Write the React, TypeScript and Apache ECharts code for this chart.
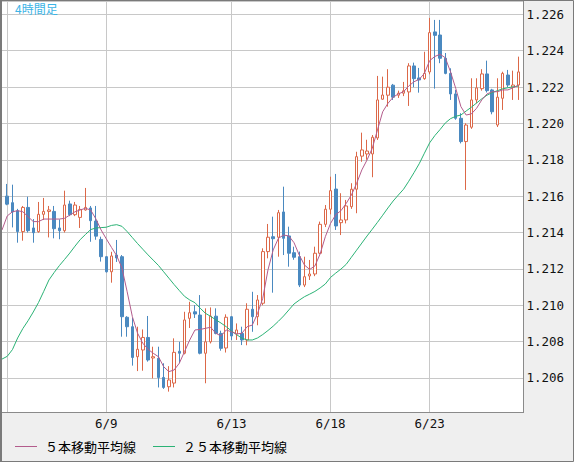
import { useEffect, useRef } from "react";
import * as echarts from "echarts";

// 4-hour candles (oldest first)
const opens = [
  1.216, 1.21564, 1.2152, 1.21405, 1.21538, 1.21425, 1.21405, 1.215, 1.21516, 1.21516,
  1.21425, 1.2141, 1.21557, 1.21498, 1.21483, 1.21524, 1.21535, 1.21463, 1.21362, 1.21267,
  1.21184, 1.21276, 1.21267, 1.20934, 1.20882, 1.20717, 1.20754, 1.20823, 1.2071, 1.20708,
  1.20603, 1.20552, 1.20572, 1.20747, 1.20736, 1.20928, 1.20964, 1.20946, 1.20736, 1.20799,
  1.2094, 1.20845, 1.20765, 1.20937, 1.20842, 1.20845, 1.20809, 1.20978, 1.20937, 1.21011,
  1.21295, 1.21377, 1.21374, 1.21513, 1.21381, 1.21289, 1.21267, 1.21111, 1.21161, 1.21172,
  1.21286, 1.21445, 1.21528, 1.21639, 1.21454, 1.21469, 1.21542, 1.21638, 1.2182, 1.21832,
  1.21832, 1.2192, 1.22133, 1.22155, 1.2221, 1.22155, 1.22166, 1.22173, 1.22316, 1.2225,
  1.22246, 1.22283, 1.22503, 1.22486, 1.22358, 1.22275, 1.22162, 1.22028, 1.219, 1.21979,
  1.22129, 1.22191, 1.22272, 1.22184, 1.21991, 1.22138, 1.22266, 1.22199, 1.22211,
];
const closes = [
  1.21556, 1.21513, 1.21405, 1.21538, 1.2141, 1.21399, 1.215, 1.21516, 1.21524, 1.21421,
  1.2141, 1.21551, 1.21498, 1.21551, 1.21527, 1.21538, 1.21465, 1.2138, 1.21267, 1.21184,
  1.21271, 1.2126, 1.20937, 1.20882, 1.20713, 1.20758, 1.20823, 1.20699, 1.20717, 1.20603,
  1.20548, 1.20589, 1.20741, 1.20736, 1.20919, 1.20959, 1.20952, 1.20736, 1.20799, 1.2094,
  1.20845, 1.20763, 1.20934, 1.20831, 1.20864, 1.20809, 1.20978, 1.20937, 1.21029, 1.21295,
  1.21374, 1.21366, 1.21509, 1.21368, 1.21286, 1.21264, 1.21111, 1.21157, 1.21172, 1.21286,
  1.21445, 1.21528, 1.2163, 1.21436, 1.21469, 1.21546, 1.21638, 1.21817, 1.21854, 1.21848,
  1.21924, 1.22129, 1.22156, 1.22199, 1.22144, 1.22166, 1.22179, 1.22316, 1.22246, 1.22239,
  1.22275, 1.22499, 1.22484, 1.22358, 1.22275, 1.22162, 1.22028, 1.219, 1.21991, 1.22129,
  1.22195, 1.22272, 1.2218, 1.22064, 1.22144, 1.22275, 1.22211, 1.22211, 1.22283,
];
const lows = [
  1.2155, 1.21428, 1.21344, 1.21355, 1.214, 1.21344, 1.21399, 1.21469, 1.21373, 1.21368,
  1.21363, 1.214, 1.2149, 1.2149, 1.21425, 1.2152, 1.21349, 1.2136, 1.2124, 1.2118,
  1.21124, 1.21238, 1.20827, 1.20827, 1.20668, 1.20638, 1.2064, 1.2069, 1.20598, 1.20548,
  1.2054, 1.20525, 1.20548, 1.20681, 1.2073, 1.20875, 1.2093, 1.2073, 1.20571, 1.2079,
  1.2084, 1.2075, 1.2074, 1.20809, 1.20809, 1.20781, 1.2078, 1.20854, 1.2089, 1.21,
  1.21258, 1.21069, 1.21267, 1.21276, 1.21212, 1.2125, 1.211, 1.211, 1.21139, 1.2116,
  1.2128, 1.2143, 1.215, 1.21414, 1.21386, 1.2145, 1.2153, 1.21506, 1.21789, 1.218,
  1.21704, 1.21909, 1.2213, 1.22092, 1.22129, 1.2214, 1.2215, 1.22096, 1.22199, 1.22169,
  1.2224, 1.2227, 1.22191, 1.22331, 1.2227, 1.22129, 1.2202, 1.2189, 1.21634, 1.2197,
  1.2211, 1.2218, 1.2217, 1.2205, 1.2198, 1.22074, 1.222, 1.22129, 1.22129,
];
const highs = [
  1.21667, 1.21663, 1.2153, 1.21546, 1.21597, 1.21474, 1.21568, 1.2159, 1.21546, 1.21546,
  1.21472, 1.2163, 1.21575, 1.21568, 1.21546, 1.21645, 1.21546, 1.21546, 1.21377, 1.2127,
  1.21294, 1.21359, 1.21276, 1.2094, 1.2093, 1.20882, 1.20867, 1.20941, 1.20772, 1.20772,
  1.20681, 1.20665, 1.20818, 1.20799, 1.20964, 1.21019, 1.21001, 1.21056, 1.20983, 1.20988,
  1.20983, 1.2086, 1.2095, 1.2094, 1.209, 1.20882, 1.21011, 1.21074, 1.21056, 1.21313,
  1.21447, 1.21487, 1.21524, 1.21652, 1.21432, 1.21322, 1.21295, 1.21267, 1.21249, 1.21322,
  1.2146, 1.21551, 1.21707, 1.21722, 1.21616, 1.21579, 1.21671, 1.21844, 1.21949, 1.2191,
  1.21936, 1.22261, 1.22257, 1.22298, 1.22217, 1.2218, 1.22228, 1.22331, 1.22334, 1.22305,
  1.22394, 1.2258, 1.22569, 1.22569, 1.22387, 1.22303, 1.22184, 1.22056, 1.22001, 1.22248,
  1.22248, 1.22298, 1.22345, 1.2219, 1.22248, 1.22284, 1.22294, 1.2229, 1.22367,
];

// moving averages as drawn; first value sits one slot before the first candle
const ma5 = [
  1.21414,
  1.21491, 1.21514, 1.2152, 1.21514, 1.21487, 1.2146, 1.2146, 1.21474, 1.21474, 1.21474,
  1.21474, 1.21478, 1.21496, 1.21514, 1.21524, 1.21533, 1.21524, 1.21475, 1.21414, 1.21365,
  1.21318, 1.21272, 1.21205, 1.21074, 1.20937, 1.20846, 1.20791, 1.20758, 1.20736, 1.20717,
  1.20662, 1.20635, 1.20644, 1.20681, 1.20745, 1.20809, 1.20864, 1.20867, 1.20873, 1.20879,
  1.20846, 1.20831, 1.20864, 1.20854, 1.20842, 1.20846, 1.20882, 1.20891, 1.20955, 1.21038,
  1.21194, 1.21304, 1.21368, 1.21386, 1.21381, 1.21344, 1.21276, 1.21221, 1.21197, 1.21216,
  1.21282, 1.21377, 1.2145, 1.21498, 1.2152, 1.2156, 1.21606, 1.2167, 1.21744, 1.21799,
  1.21863, 1.21964, 1.22064, 1.2211, 1.22144, 1.22162, 1.22174, 1.22206, 1.22229, 1.22242,
  1.22275, 1.22345, 1.22368, 1.2238, 1.22361, 1.22284, 1.22193, 1.22092, 1.22046, 1.22052,
  1.22083, 1.22129, 1.22162, 1.22174, 1.22174, 1.22184, 1.22184, 1.22196, 1.2221,
];
const ma25 = [
  1.20704,
  1.20719, 1.20756, 1.2082, 1.20872, 1.20915, 1.20963, 1.21015, 1.21076, 1.21139, 1.2118,
  1.21218, 1.21252, 1.21287, 1.21325, 1.21361, 1.21389, 1.21416, 1.21425, 1.21427, 1.21429,
  1.21439, 1.21443, 1.21434, 1.21405, 1.21372, 1.21339, 1.21308, 1.21277, 1.21248, 1.21219,
  1.21184, 1.21149, 1.21114, 1.21081, 1.21049, 1.21029, 1.21014, 1.20984, 1.20956, 1.20939,
  1.2092, 1.20902, 1.20882, 1.20859, 1.20838, 1.20819, 1.20809, 1.20809, 1.2082, 1.20839,
  1.20861, 1.20885, 1.20912, 1.20941, 1.20974, 1.21007, 1.21028, 1.21047, 1.21061, 1.21076,
  1.21095, 1.21117, 1.21153, 1.21177, 1.21199, 1.21225, 1.21264, 1.21303, 1.21342, 1.21381,
  1.21418, 1.21456, 1.21495, 1.21535, 1.21573, 1.21606, 1.21638, 1.21682, 1.21729, 1.21778,
  1.21836, 1.21893, 1.21933, 1.21966, 1.22002, 1.22026, 1.22039, 1.22046, 1.22068, 1.22089,
  1.22112, 1.22135, 1.22155, 1.22169, 1.2218, 1.2219, 1.22196, 1.22201, 1.22205,
];

// vertical grid lines sit on these candles
const gridCandles = [0, 19, 43, 62, 81];
const gridLabels = ["", "6/9", "6/13", "6/18", "6/23"];

const seriesNames = ["５本移動平均線", "２５本移動平均線"];

const Y_MIN = 1.20413;
const Y_MAX = 1.22673;

const UP = "#dc6848";
const DOWN = "#4a89c0";
const MA5_COLOR = "#b35c8c";
const MA25_COLOR = "#2bb275";

export default function App() {
  const chartRef = useRef<HTMLDivElement>(null);

  useEffect(() => {
    if (!chartRef.current) return;
    const chart = echarts.init(chartRef.current, null, { renderer: "svg" });

    // one empty slot on each side, so the plot reaches a bar past the candles
    const cats = ["pre", ...opens.map((_, i) => String(i)), "post"];
    const empty = ["-", "-", "-", "-"];
    const candles = [
      empty,
      ...opens.map((o, i) => [o, closes[i], lows[i], highs[i]]),
      empty,
    ];
    const isGrid = (_: number, v: string) => gridCandles.includes(Number(v));
    const mono = "DejaVu Sans Mono";
    const jp = "Noto Sans CJK JP";

    chart.setOption({
      animation: false,
      backgroundColor: "#efefef",
      title: {
        text: "4時間足",
        left: 15,
        top: 2,
        padding: 0,
        textStyle: { color: "#3cb4e6", fontSize: 12, fontWeight: "normal", fontFamily: jp },
      },
      legend: {
        data: seriesNames,
        left: 15,
        top: 440,
        padding: 0,
        icon: "rect",
        itemWidth: 22,
        itemHeight: 1,
        itemGap: 17,
        selectedMode: false,
        textStyle: { color: "#000", fontSize: 13, fontFamily: jp, padding: [0, 0, 0, 3] },
      },
      grid: { left: 2, right: 50.5, top: 1, bottom: 50 },
      xAxis: {
        type: "category",
        data: cats,
        boundaryGap: false,
        axisLine: { show: false },
        axisTick: { show: false },
        axisLabel: {
          interval: isGrid,
          margin: 5,
          color: "#111",
          fontSize: 12.5,
          fontFamily: mono,
          formatter: (v: string) => {
            const k = gridCandles.indexOf(Number(v));
            return k >= 0 ? gridLabels[k] : "";
          },
        },
        splitLine: { show: true, interval: isGrid, lineStyle: { color: "#c8c8c8", width: 1 } },
      },
      yAxis: {
        type: "value",
        position: "right",
        min: Y_MIN,
        max: Y_MAX,
        splitNumber: 10,
        axisLine: { show: false },
        axisTick: { show: false },
        axisLabel: {
          showMinLabel: false,
          showMaxLabel: false,
          margin: 3,
          color: "#111",
          fontSize: 12.5,
          fontFamily: mono,
          formatter: (v: number) => v.toFixed(3),
        },
        splitLine: { lineStyle: { color: "#c8c8c8", width: 1 } },
      },
      graphic: [
        { type: "rect", z: -100, silent: true, shape: { x: 2, y: 1, width: 521.5, height: 411.5 }, style: { fill: "#fff" } },
        { type: "line", z: 100, silent: true, shape: { x1: 523.5, y1: 1, x2: 523.5, y2: 413 }, style: { stroke: "#8a8a8a", lineWidth: 1 } },
        { type: "line", z: 100, silent: true, shape: { x1: 2, y1: 412.5, x2: 524, y2: 412.5 }, style: { stroke: "#8a8a8a", lineWidth: 1 } },
        { type: "rect", z: 100, silent: true, shape: { x: 0.5, y: 0.5, width: 573, height: 461 }, style: { fill: "none", stroke: "#7a7a7a", lineWidth: 1 } },
        { type: "rect", z: 100, silent: true, shape: { x: 0, y: 0, width: 2, height: 462 }, style: { fill: "#7a7a7a" } },
      ],
      series: [
        {
          type: "candlestick",
          data: candles,
          barWidth: 3,
          clip: false,
          emphasis: { disabled: true },
          itemStyle: {
            color: "#fff",
            color0: DOWN,
            borderColor: UP,
            borderColor0: DOWN,
            borderWidth: 1,
          },
        },
        {
          name: seriesNames[1],
          type: "line",
          data: [...ma25, "-"],
          symbol: "none",
          color: MA25_COLOR,
          itemStyle: { color: MA25_COLOR },
          lineStyle: { width: 1, color: MA25_COLOR },
          emphasis: { disabled: true },
        },
        {
          name: seriesNames[0],
          type: "line",
          data: [...ma5, "-"],
          symbol: "none",
          color: MA5_COLOR,
          itemStyle: { color: MA5_COLOR },
          lineStyle: { width: 1, color: MA5_COLOR },
          emphasis: { disabled: true },
        },
      ],
    });

    return () => {
      chart.dispose();
    };
  }, []);

  return (
    <div
      ref={chartRef}
      style={{ position: "fixed", left: 0, top: 0, width: 574, height: 462 }}
    />
  );
}
